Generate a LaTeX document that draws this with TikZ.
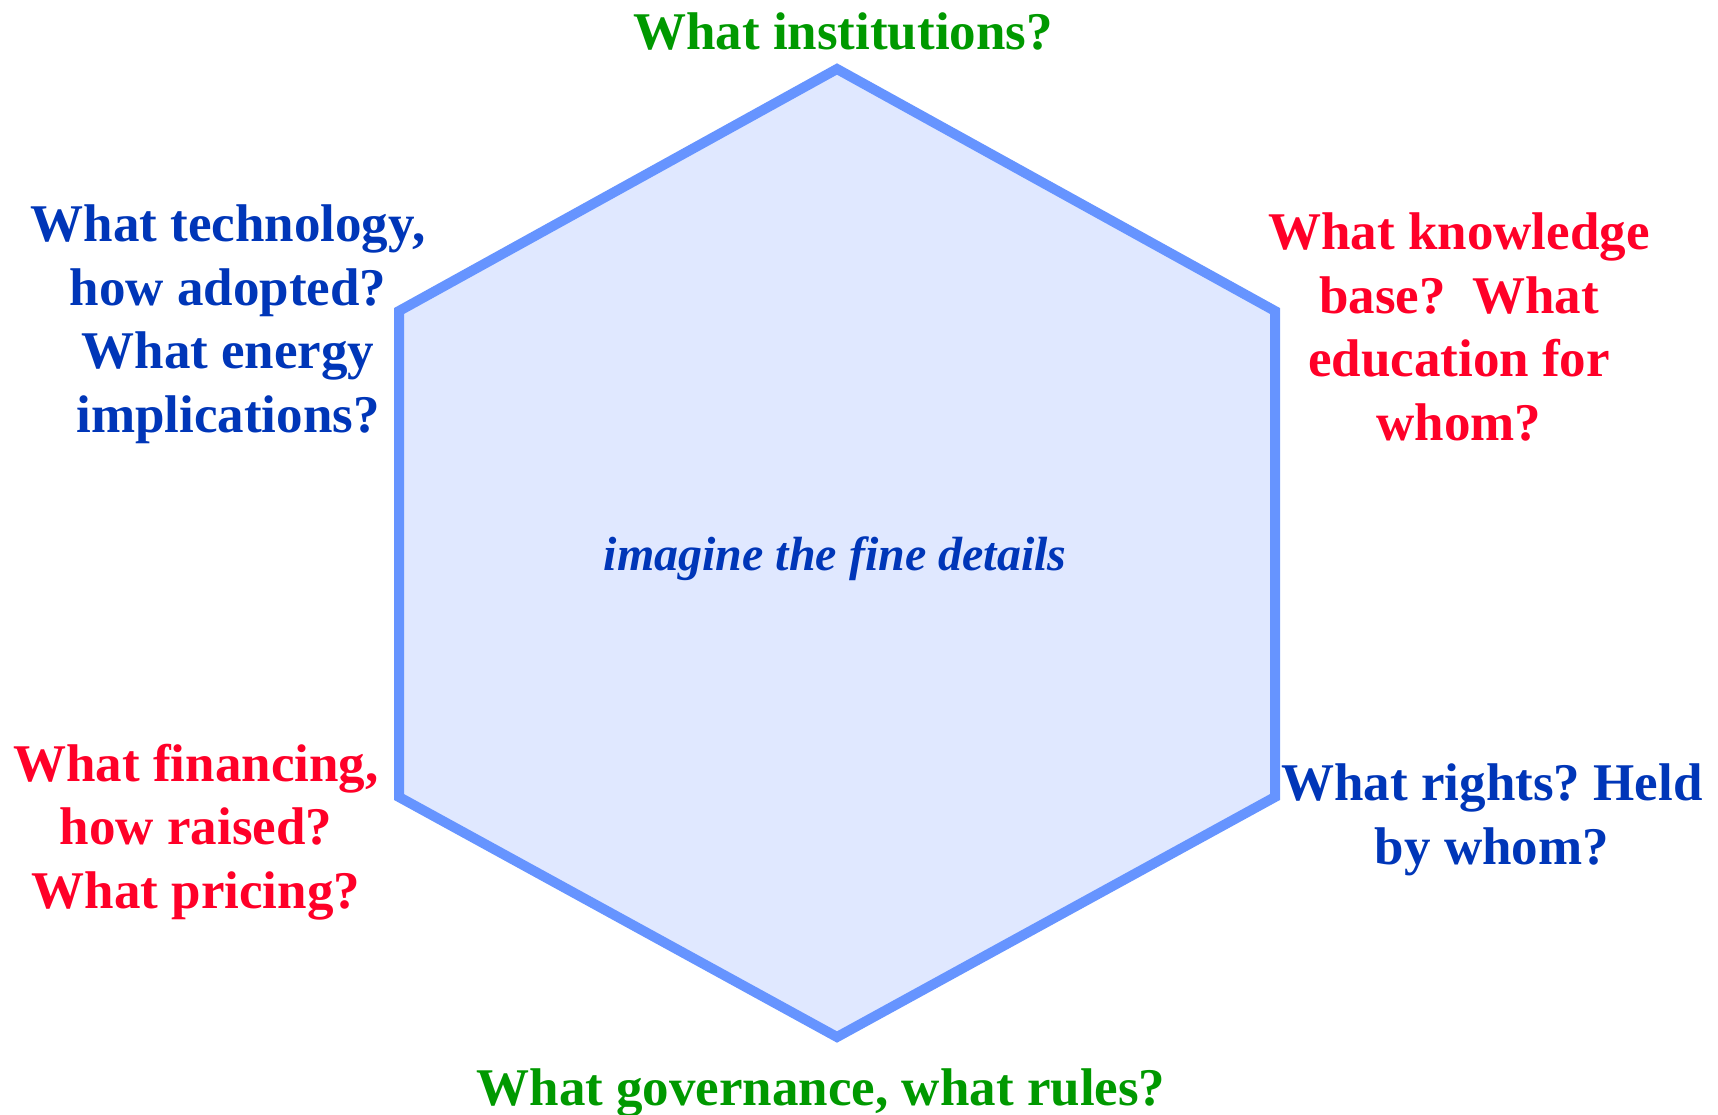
\documentclass[tikz,border=0pt]{standalone}
\usepackage{fontspec}
\setmainfont{Liberation Serif}
\definecolor{hexline}{RGB}{102,148,255}
\definecolor{hexfill}{RGB}{224,232,255}
\definecolor{qgreen}{RGB}{0,153,0}
\definecolor{qblue}{RGB}{0,54,184}
\definecolor{qred}{RGB}{255,0,40}
\tikzset{
  qtext/.style={align=center, anchor=base, inner sep=0pt,
    font=\fontsize{26.5}{31.75}\selectfont\bfseries\frenchspacing},
  hexside/.style={draw=hexline, fill=hexfill, line width=5pt, line join=miter}
}
\begin{document}
\begin{tikzpicture}[x=0.5pt,y=-0.5pt]
\useasboundingbox (0,0) rectangle (1718,1114);
\coordinate (ht) at (837,69);
\coordinate (hur) at (1275,311);
\coordinate (hlr) at (1275,797);
\coordinate (hb) at (837,1037);
\coordinate (hll) at (399,797);
\coordinate (hul) at (399,311);
\draw[hexside] (ht) -- (hur) -- (hlr) -- (hb) -- (hll) -- (hul) -- cycle;
% anchor=base of a multi-line node lies on its last line's baseline
\node[qtext, text=qgreen] (top) at (843,49) {What institutions?};
\node[qtext, text=qblue] (tl) at (228,432) {What technology,\\how adopted?\\What energy\\implications?};
\node[qtext, text=qred] (tr) at (1459,440) {What knowledge\\base?\ \ What\\education for\\whom?};
\node[qtext, text=qred] (bl) at (196,908) {What financing,\\how raised?\\What pricing?};
\node[qtext, text=qblue] (br) at (1492,864) {What rights? Held\\by whom?};
\node[qtext, text=qgreen] (bot) at (821,1105) {What governance, what rules?};
\node[anchor=base, inner sep=0pt, text=qblue, font=\fontsize{24}{28}\selectfont\bfseries\itshape] (mid) at (835,570) {imagine the fine details};
\end{tikzpicture}
\end{document}
